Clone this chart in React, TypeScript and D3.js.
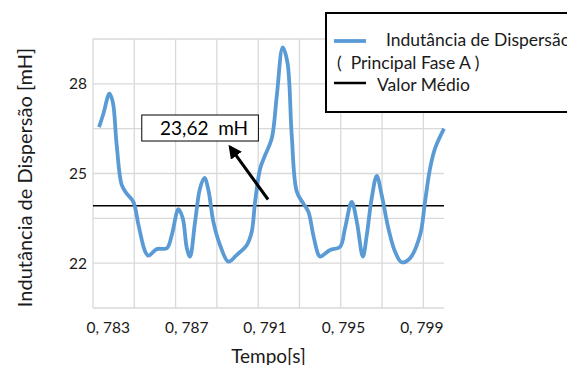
import React, { useEffect, useRef } from 'react';
import * as d3 from 'd3';

// time [s] and leakage inductance [mH]
const tempo = [
  0.78253, 0.78275, 0.78306, 0.78323, 0.78343, 0.78369, 0.78394, 0.78428, 0.78454, 0.78488,
  0.78505, 0.78547, 0.78599, 0.78624, 0.78658, 0.7868, 0.78701, 0.78717, 0.78743, 0.78768,
  0.78791, 0.78811, 0.78836, 0.7887, 0.78913, 0.78956, 0.79007, 0.79032, 0.79049, 0.79075,
  0.791, 0.79134, 0.7916, 0.7919, 0.79214, 0.79236, 0.79262, 0.79295, 0.79321, 0.79346,
  0.79372, 0.79381, 0.79432, 0.79483, 0.79508, 0.79542, 0.79568, 0.79599, 0.79619, 0.79644,
  0.7967, 0.79695, 0.79729, 0.79763, 0.79797, 0.7984, 0.79891, 0.79916, 0.79942, 0.79967,
  0.80013,
];
const indutancia = [
  26.55, 27.0, 27.67, 27.39, 25.94, 24.61, 24.33, 24.05, 23.28, 22.39,
  22.25, 22.47, 22.5, 22.94, 23.81, 23.5, 22.5, 22.22, 23.39, 24.5,
  24.85, 24.44, 23.39, 22.61, 22.05, 22.28, 22.61, 23.05, 24.05, 25.17,
  25.61, 26.17, 27.61, 29.22, 28.72, 26.28, 24.39, 24.0, 23.72, 22.94,
  22.28, 22.22, 22.44, 22.55, 23.17, 24.05, 23.39, 22.22, 22.94, 24.17,
  24.92, 24.28, 23.17, 22.39, 22.03, 22.17, 22.94, 24.05, 25.17, 25.83,
  26.5,
];
const valorMedio = 23.92;

const xTicks = [0.783, 0.787, 0.791, 0.795, 0.799];
const xTickLabels = ['0, 783', '0, 787', '0, 791', '0, 795', '0, 799'];
const yTicks = [22, 25, 28];
const yGrid = [20.5, 22, 23.5, 25, 26.5, 28, 29.5];

const legendLabels = ['Indutância de Dispersão', '(  Principal Fase A )', 'Valor Médio'];
const annotationText = '23,62  mH';

const App = () => {
  const svgRef = useRef(null);

  useEffect(() => {
    document.body.style.margin = '0';
    const svg = d3.select(svgRef.current);
    svg.selectAll('*').remove();

    const width = 567;
    const height = 365;
    const margin = { top: 39, right: 123, bottom: 57, left: 93 };
    const innerW = width - margin.left - margin.right;
    const innerH = height - margin.top - margin.bottom;
    const font = 'Lato, "Open Sans", sans-serif';
    const blue = '#5b9bd5';

    svg.append('rect').attr('width', width).attr('height', height).attr('fill', '#fff');

    const g = svg.append('g').attr('transform', `translate(${margin.left},${margin.top})`);

    const x = d3.scaleLinear().domain([0.78222, 0.80013]).range([0, innerW]);
    const y = d3.scaleLinear().domain([20.5, 29.5]).range([innerH, 0]);
    // excel category gridlines, 8.5 divisions across the plot
    const xg = d3.scaleLinear().domain([0, 8.5]).range([0, innerW]);

    g.selectAll('.vgrid').data(d3.range(0, 9)).enter().append('line')
      .attr('x1', d => xg(d)).attr('x2', d => xg(d))
      .attr('y1', 0).attr('y2', innerH)
      .attr('stroke', '#d9d9d9').attr('stroke-width', 1.3);

    g.selectAll('.hgrid').data(yGrid).enter().append('line')
      .attr('x1', 0).attr('x2', innerW)
      .attr('y1', d => y(d)).attr('y2', d => y(d))
      .attr('stroke', '#d9d9d9').attr('stroke-width', 1.3);

    // mean value
    g.append('line')
      .attr('x1', 0).attr('x2', innerW)
      .attr('y1', y(valorMedio)).attr('y2', y(valorMedio))
      .attr('stroke', '#000').attr('stroke-width', 1.6);

    const pts = tempo.map((t, i) => [t, indutancia[i]]);
    const line = d3.line()
      .x(d => x(d[0]))
      .y(d => y(d[1]))
      .curve(d3.curveCatmullRom.alpha(0.5));

    g.append('path')
      .datum(pts)
      .attr('fill', 'none')
      .attr('stroke', blue)
      .attr('stroke-width', 3.8)
      .attr('stroke-linejoin', 'round')
      .attr('d', line);

    // tick labels
    g.selectAll('.ytick').data(yTicks).enter().append('text')
      .attr('x', -6).attr('y', d => y(d))
      .attr('dy', '0.35em')
      .attr('text-anchor', 'end')
      .style('font-family', font).style('font-size', '15.5px').attr('fill', '#1a1a1a')
      .text(d => d);

    g.selectAll('.xtick').data(xTicks).enter().append('text')
      .attr('x', d => x(d)).attr('y', innerH + 20)
      .attr('dy', '0.35em')
      .attr('text-anchor', 'middle')
      .style('font-family', font).style('font-size', '15.5px').attr('fill', '#1a1a1a')
      .style('white-space', 'pre')
      .text((d, i) => xTickLabels[i]);

    // axis titles
    svg.append('text')
      .attr('transform', `translate(25,${margin.top + innerH / 2 + 4}) rotate(-90)`)
      .attr('dy', '0.35em')
      .attr('text-anchor', 'middle')
      .style('font-family', font).style('font-size', '20px').attr('fill', '#1a1a1a')
      .text('Indutância de Dispersão [mH]');

    svg.append('text')
      .attr('x', margin.left + innerW / 2).attr('y', 363)
      .attr('text-anchor', 'middle')
      .style('font-family', font).style('font-size', '19px').attr('fill', '#1a1a1a')
      .text('Tempo[s]');

    // annotation box + arrow
    const bx0 = x(0.784709), bx1 = x(0.790658);
    const by0 = y(26.957), by1 = y(26.087);
    g.append('rect')
      .attr('x', bx0).attr('y', by0)
      .attr('width', bx1 - bx0).attr('height', by1 - by0)
      .attr('fill', '#fff').attr('stroke', '#000').attr('stroke-width', 1);
    g.append('text')
      .attr('x', (bx0 + bx1) / 2 + 4).attr('y', (by0 + by1) / 2)
      .attr('dy', '0.36em')
      .attr('text-anchor', 'middle')
      .style('font-family', font).style('font-size', '19px').attr('fill', '#000')
      .style('white-space', 'pre')
      .text(annotationText);

    svg.append('defs').append('marker')
      .attr('id', 'arrowhead')
      .attr('viewBox', '0 0 10 10')
      .attr('refX', 8).attr('refY', 5)
      .attr('markerWidth', 4.5).attr('markerHeight', 4.5)
      .attr('orient', 'auto')
      .append('path').attr('d', 'M0,0 L10,5 L0,10 Z').attr('fill', '#000');

    g.append('line')
      .attr('x1', x(0.791153)).attr('y1', y(24.13))
      .attr('x2', x(0.789214)).attr('y2', y(25.886))
      .attr('stroke', '#000').attr('stroke-width', 3)
      .attr('marker-end', 'url(#arrowhead)');

    // legend
    const lg = svg.append('g').attr('transform', 'translate(326,13)');
    lg.append('rect')
      .attr('x', 0).attr('y', 0).attr('width', 260).attr('height', 99)
      .attr('fill', '#fff').attr('stroke', '#000').attr('stroke-width', 2);
    lg.append('line').attr('x1', 8).attr('x2', 40).attr('y1', 28).attr('y2', 28)
      .attr('stroke', blue).attr('stroke-width', 3.8);
    lg.append('text').attr('x', 60).attr('y', 27).attr('dy', '0.35em')
      .style('font-family', font).style('font-size', '17.5px').attr('fill', '#1a1a1a')
      .text(legendLabels[0]);
    lg.append('text').attr('x', 11).attr('y', 50).attr('dy', '0.35em')
      .style('font-family', font).style('font-size', '17.5px').attr('fill', '#1a1a1a')
      .style('white-space', 'pre')
      .text(legendLabels[1]);
    lg.append('line').attr('x1', 8).attr('x2', 40).attr('y1', 70).attr('y2', 70)
      .attr('stroke', '#000').attr('stroke-width', 2.5);
    lg.append('text').attr('x', 51).attr('y', 72).attr('dy', '0.35em')
      .style('font-family', font).style('font-size', '17.5px').attr('fill', '#1a1a1a')
      .text(legendLabels[2]);
  }, []);

  return <svg ref={svgRef} width={567} height={365} style={{ display: 'block' }} />;
};

export default App;
